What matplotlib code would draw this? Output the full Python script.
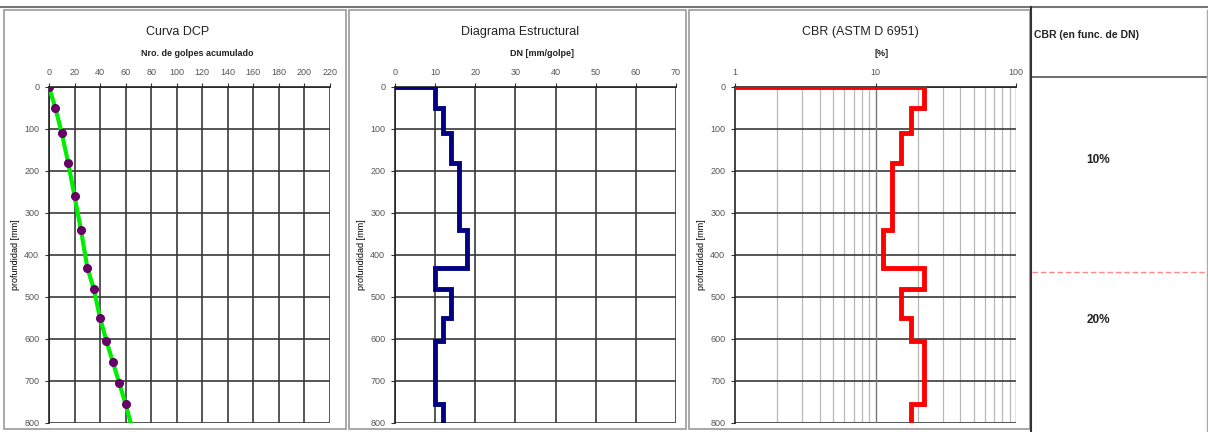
import numpy as np
import matplotlib.pyplot as plt
from matplotlib.lines import Line2D
from matplotlib.patches import Rectangle
import matplotlib.ticker as ticker

plt.rcParams['font.family'] = ['Liberation Sans', 'DejaVu Sans']

# DCP readings
golpes = [0, 5, 10, 15, 20, 25, 30, 35, 40, 45, 50, 55, 60, 64]
prof = [0, 50, 110, 180, 260, 340, 430, 480, 550, 605, 655, 705, 755, 800]

# layer boundaries and values (step profiles)
capas = [0, 50, 110, 180, 260, 340, 430, 480, 550, 605, 655, 705, 755, 800]
dn = [10, 12, 14, 16, 16, 18, 10, 14, 12, 10, 10, 10, 12]
cbr = [22, 18, 15.2, 13.1, 13.1, 11.4, 22, 15.2, 18, 22, 22, 22, 18]

cbr_tramos = ['10%', '20%']
limite_tramo = 440

W, H = 1208, 432
fig = plt.figure(figsize=(W / 100, H / 100), dpi=100)


def fx(px):
    return px / W


def fy(py):
    return 1 - py / H


def step_xy(vals, start):
    xs, ys = [start, vals[0]], [0, 0]
    for i, v in enumerate(vals):
        xs += [v, v]
        ys += [capas[i], capas[i + 1]]
    return xs, ys


grid_c = '#3a3a3a'
tick_c = '#555555'


def make_ax(x0, title, sub, tcx, scx):
    ax = fig.add_axes([fx(x0), fy(423), fx(281), (423 - 87) / H])
    ax.set_ylim(800, 0)
    ax.set_yticks(np.arange(0, 801, 100))
    ax.xaxis.tick_top()
    ax.tick_params(axis='both', labelsize=6.5, labelcolor=tick_c, color='#333333',
                   length=3, width=0.8, pad=4)
    for s in ['right', 'bottom']:
        ax.spines[s].set_visible(False)
    for s in ['left', 'top']:
        ax.spines[s].set_color('#222222')
        ax.spines[s].set_linewidth(1.2)
    ax.grid(True, which='major', color=grid_c, lw=1.2)
    ax.set_axisbelow(True)
    ax.set_ylabel('profundidad [mm]', fontsize=6.5, labelpad=3)
    fig.text(fx(tcx), fy(32), title, ha='center', va='center', fontsize=9, color='#222222')
    fig.text(fx(scx), fy(53), sub, ha='center', va='center', fontsize=6.5,
             fontweight='bold', color='#222222')
    return ax


# Panel 1: Curva DCP
ax1 = make_ax(49, 'Curva DCP', 'Nro. de golpes acumulado', 178, 197)
ax1.set_xlim(0, 220)
ax1.set_xticks(np.arange(0, 221, 20))
ax1.plot(golpes, prof, color='#00ee00', lw=3, zorder=3)
ax1.plot(golpes[:-1], prof[:-1], 'o', color='#660066', ms=5.5, zorder=4)

# Panel 2: Diagrama Estructural
ax2 = make_ax(395, 'Diagrama Estructural', 'DN [mm/golpe]', 520, 542)
ax2.set_xlim(0, 70)
ax2.set_xticks(np.arange(0, 71, 10))
xs, ys = step_xy(dn, 0)
ax2.plot(xs, ys, color='#000080', lw=3.5, zorder=3, solid_joinstyle='miter')

# Panel 3: CBR
ax3 = make_ax(735, 'CBR (ASTM D 6951)', '[%]', 860, 882)
ax3.set_xscale('log')
ax3.set_xlim(1, 100)
ax3.xaxis.set_major_locator(ticker.FixedLocator([1, 10, 100]))
ax3.xaxis.set_major_formatter(ticker.FixedFormatter(['1', '10', '100']))
ax3.xaxis.set_minor_locator(ticker.LogLocator(base=10, subs=np.arange(2, 10), numticks=10))
ax3.xaxis.set_minor_formatter(ticker.NullFormatter())
ax3.tick_params(axis='x', which='minor', length=0)
ax3.grid(True, which='minor', axis='x', color='#b8b8b8', lw=0.9)
ax3.grid(False, which='major', axis='x')
for v in [10, 100]:
    ax3.axvline(v, color='#777777', lw=1.0, zorder=1)
xs, ys = step_xy(cbr, 1)
ax3.plot(xs, ys, color='#ff0000', lw=3.5, zorder=3, solid_joinstyle='miter')

# Panel 4: CBR por tramos (text table)
fig.text(fx(1034), fy(35), 'CBR (en func. de DN)', ha='left', va='center',
         fontsize=7.5, fontweight='bold', color='#222222')
fig.text(fx(1098), fy(160), cbr_tramos[0], ha='center', va='center',
         fontsize=8.5, fontweight='bold', color='#222222')
fig.text(fx(1098), fy(320), cbr_tramos[1], ha='center', va='center',
         fontsize=8.5, fontweight='bold', color='#222222')
# dashed limit at the layer change, mapped with panel depth scale
yl = 87 + limite_tramo * (423 - 87) / 800
fig.add_artist(Line2D([fx(1032), 1], [fy(yl), fy(yl)], color='#ff8888',
                      lw=1, ls=(0, (4, 2))))
fig.add_artist(Line2D([fx(1032), 1], [fy(77), fy(77)], color='#555555', lw=1.2))

# frames
for x0, x1 in [(4, 346), (349, 686), (689, 1030)]:
    fig.add_artist(Rectangle((fx(x0), fy(429)), fx(x1 - x0), (429 - 10) / H,
                             fill=False, ec='#9a9a9a', lw=1.2))
fig.add_artist(Line2D([0, 1], [fy(7), fy(7)], color='#777777', lw=1.5))
fig.add_artist(Line2D([fx(1031), fx(1031)], [0, fy(7)], color='#333333', lw=1.5))
fig.add_artist(Line2D([fx(1207), fx(1207)], [0, fy(10)], color='#aaaaaa', lw=1))

fig.savefig('out.png', dpi=100)
